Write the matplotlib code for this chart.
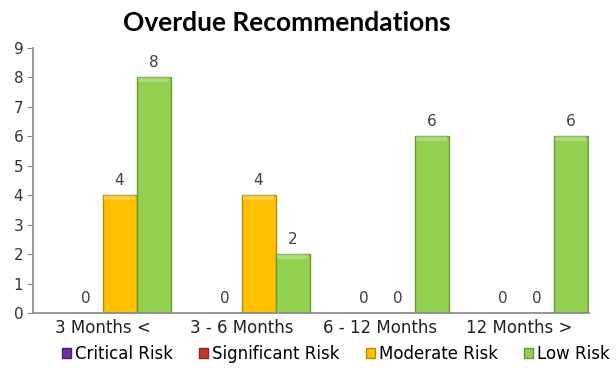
import numpy as np
import matplotlib
matplotlib.use("Agg")
import matplotlib.pyplot as plt
from matplotlib.patches import Patch

categories = ['3 Months <', '3 - 6 Months', '6 - 12 Months', '12 Months >']
series_names = ['Critical Risk', 'Significant Risk', 'Moderate Risk', 'Low Risk']
critical = [np.nan, np.nan, np.nan, np.nan]
significant = [0, 0, 0, 0]
moderate = [4, 4, 0, 0]
low = [8, 2, 6, 6]
series_colors = ['#7030A0', '#C0392B', '#FFC000', '#92D050']
edge_colors = ['#4B1F6E', '#8A2620', '#B88A00', '#6A9A38']

plt.rcParams['font.family'] = ['DejaVu Sans']

fig = plt.figure(figsize=(6.16, 3.76), dpi=100)
ax = fig.add_axes([33 / 616, 1 - 313 / 376, 556 / 616, 265 / 376])

x = np.arange(len(categories))
width = 0.245
offsets = (np.arange(4) - 1.5) * width

for vals, off, fc, ec in zip([critical, significant, moderate, low], offsets,
                             series_colors, edge_colors):
    vals = np.asarray(vals, dtype=float)
    ok = ~np.isnan(vals)
    bars = ax.bar(x[ok] + off, vals[ok], width, color=fc, edgecolor=ec,
                  linewidth=1.0, zorder=2)
    # lighter strip along the top of each bar
    ax.bar(x[ok] + off, np.minimum(vals[ok], 0.15), width * 0.9,
           bottom=vals[ok] - np.minimum(vals[ok], 0.15), color='white',
           alpha=0.25, linewidth=0, zorder=3)
    for b, v in zip(bars, vals[ok]):
        ax.text(b.get_x() + b.get_width() / 2, v + 0.25, f'{v:g}',
                ha='center', va='bottom', fontsize=11, color='#404040')

ax.set_xlim(-0.5, len(categories) - 0.5)
ax.set_ylim(0, 9)
ax.set_yticks(range(10))
ax.set_xticks(x)
ax.set_xticklabels(categories, fontsize=12, color='#222222')
ax.tick_params(axis='x', length=0, pad=4)
ax.tick_params(axis='y', length=4, color='#888888', labelsize=11,
               labelcolor='#333333', pad=3)
for s in ['top', 'right']:
    ax.spines[s].set_visible(False)
for s in ['left', 'bottom']:
    ax.spines[s].set_color('#888888')
    ax.spines[s].set_linewidth(1.2)

fig.text(287 / 616, 0.94, 'Overdue Recommendations', ha='center', va='center',
         fontsize=19, fontweight='bold', color='black', family='Lato')

handles = [Patch(facecolor=fc, edgecolor=ec, label=n)
           for n, fc, ec in zip(series_names, series_colors, edge_colors)]
fig.legend(handles=handles, loc='center', bbox_to_anchor=(0.545, 0.058),
           ncol=4, frameon=False, fontsize=12, handlelength=0.55,
           handleheight=0.55, handletextpad=0.25, columnspacing=1.55)

fig.savefig('out.png', dpi=100, facecolor='white')
